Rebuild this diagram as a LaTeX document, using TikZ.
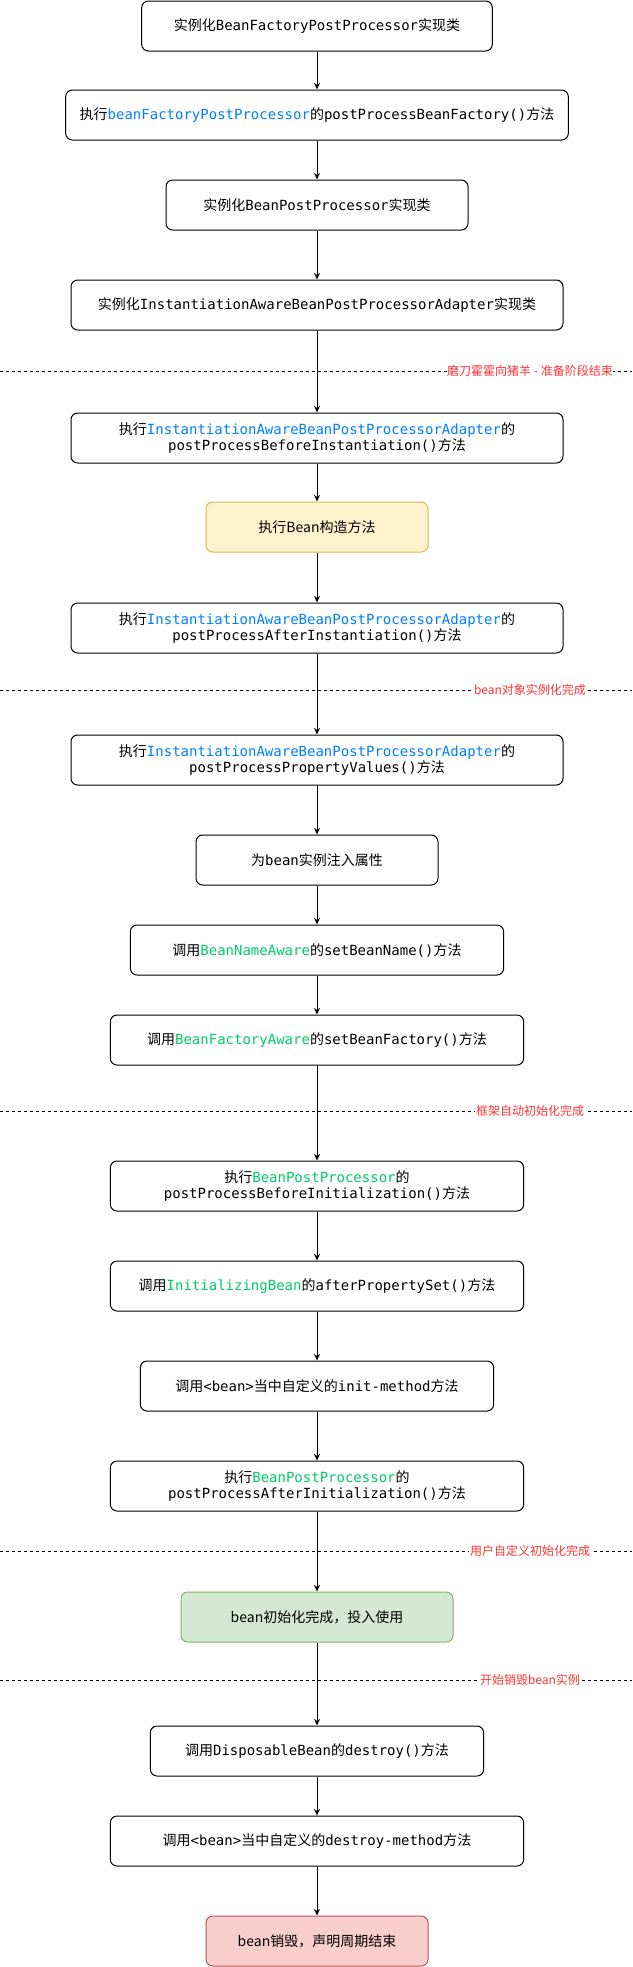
\documentclass[tikz,border=0pt]{standalone}
\usepackage{fontspec}
\setmonofont{DejaVu Sans Mono}
\newfontfamily\cjk{Noto Sans CJK SC}
\usepackage{xcolor}
\usetikzlibrary{arrows.meta, positioning}
\definecolor{blueA}{HTML}{007FFF}
\definecolor{greenA}{HTML}{00CC66}
\definecolor{redA}{HTML}{FF3333}
\definecolor{yellowA}{HTML}{D6B656}
\definecolor{yellowB}{HTML}{FFF2CC}
\definecolor{greenC}{HTML}{82B366}
\definecolor{greenD}{HTML}{D5E8D4}
\definecolor{redC}{HTML}{B85450}
\definecolor{redD}{HTML}{F8CECC}
\newcommand{\zh}[1]{{\cjk #1}}
\tikzset{
  stepbox/.style={
    draw=black, fill=white, rounded corners=5pt,
    line width=0.75pt, align=center, inner sep=2pt,
    minimum height=37.5pt, minimum width=#1,
    font=\ttfamily\fontsize{10.5pt}{12.6pt}\selectfont
  },
  tint/.style 2 args={fill=#1, draw=#2, font=\cjk\fontsize{10.5pt}{12.6pt}\selectfont},
  arrow/.style={-{Stealth[length=5pt, width=4.5pt]}, line width=0.75pt},
  sepline/.style={line width=0.75pt, dash pattern=on 2.25pt off 2.25pt},
  seplabel/.style={fill=white, text=redA, inner sep=0.5pt, font=\cjk\fontsize{9pt}{10pt}\selectfont}
}
\begin{document}
\begin{tikzpicture}[x=0.75pt, y=-0.75pt]
  \useasboundingbox (0,0) rectangle (632,1967);
  % phase separators
  \coordinate (sepAL) at (0,371);  \coordinate (sepAR) at (632,371);
  \coordinate (sepBL) at (0,690);  \coordinate (sepBR) at (632,690);
  \coordinate (sepCL) at (0,1111); \coordinate (sepCR) at (632,1111);
  \coordinate (sepDL) at (0,1551); \coordinate (sepDR) at (632,1551);
  \coordinate (sepEL) at (0,1680); \coordinate (sepER) at (632,1680);
  \draw[sepline] (sepAL) -- (sepAR);
  \draw[sepline] (sepBL) -- (sepBR);
  \draw[sepline] (sepCL) -- (sepCR);
  \draw[sepline] (sepDL) -- (sepDR);
  \draw[sepline] (sepEL) -- (sepER);
  \node[seplabel] (sepAT) at (530,371) {磨刀霍霍向猪羊 - 准备阶段结束};
  \node[seplabel] (sepBT) at (530,690) {bean对象实例化完成};
  \node[seplabel] (sepCT) at (530,1111) {框架自动初始化完成};
  \node[seplabel] (sepDT) at (530,1551) {用户自定义初始化完成};
  \node[seplabel] (sepET) at (530,1680) {开始销毁bean实例};

  % steps
  \node[stepbox=263pt] (bfppNew) at (317,26)
    {\zh{实例化}BeanFactoryPostProcessor\zh{实现类}};
  \node[stepbox=377pt] (bfppRun) at (317,115)
    {\zh{执行}\textcolor{blueA}{beanFactoryPostProcessor}\zh{的}postProcessBeanFactory()\zh{方法}};
  \node[stepbox=226.5pt] (bppNew) at (317,205)
    {\zh{实例化}BeanPostProcessor\zh{实现类}};
  \node[stepbox=369pt] (iabppNew) at (317,305)
    {\zh{实例化}InstantiationAwareBeanPostProcessorAdapter\zh{实现类}};
  \node[stepbox=369pt] (beforeInst) at (317,438)
    {\zh{执行}\textcolor{blueA}{InstantiationAwareBeanPostProcessorAdapter}\zh{的}\\postProcessBeforeInstantiation()\zh{方法}};
  \node[stepbox=166.5pt, tint={yellowB}{yellowA}] (ctor) at (317,527)
    {执行Bean构造方法};
  \node[stepbox=369pt] (afterInst) at (317,628)
    {\zh{执行}\textcolor{blueA}{InstantiationAwareBeanPostProcessorAdapter}\zh{的}\\postProcessAfterInstantiation()\zh{方法}};
  \node[stepbox=369pt] (propVals) at (317,760)
    {\zh{执行}\textcolor{blueA}{InstantiationAwareBeanPostProcessorAdapter}\zh{的}\\postProcessPropertyValues()\zh{方法}};
  \node[stepbox=181.5pt] (inject) at (317,860)
    {\zh{为}bean\zh{实例注入属性}};
  \node[stepbox=280pt] (nameAware) at (317,950)
    {\zh{调用}\textcolor{greenA}{BeanNameAware}\zh{的}setBeanName()\zh{方法}};
  \node[stepbox=310pt] (factoryAware) at (317,1040)
    {\zh{调用}\textcolor{greenA}{BeanFactoryAware}\zh{的}setBeanFactory()\zh{方法}};
  \node[stepbox=310pt] (beforeInit) at (317,1186)
    {\zh{执行}\textcolor{greenA}{BeanPostProcessor}\zh{的}\\postProcessBeforeInitialization()\zh{方法}};
  \node[stepbox=310pt] (afterProps) at (317,1286)
    {\zh{调用}\textcolor{greenA}{InitializingBean}\zh{的}afterPropertySet()\zh{方法}};
  \node[stepbox=265pt] (initMethod) at (317,1386)
    {\zh{调用}<bean>\zh{当中自定义的}init-method\zh{方法}};
  \node[stepbox=310pt] (afterInit) at (317,1486)
    {\zh{执行}\textcolor{greenA}{BeanPostProcessor}\zh{的}\\postProcessAfterInitialization()\zh{方法}};
  \node[stepbox=204pt, tint={greenD}{greenC}] (ready) at (317,1617)
    {bean初始化完成，投入使用};
  \node[stepbox=250pt] (disposable) at (317,1751)
    {\zh{调用}DisposableBean\zh{的}destroy()\zh{方法}};
  \node[stepbox=310pt] (destroyMethod) at (317,1841)
    {\zh{调用}<bean>\zh{当中自定义的}destroy-method\zh{方法}};
  \node[stepbox=166.5pt, tint={redD}{redC}] (dead) at (317,1941)
    {bean销毁，声明周期结束};

  % flow
  \draw[arrow] (bfppNew) -- (bfppRun);
  \draw[arrow] (bfppRun) -- (bppNew);
  \draw[arrow] (bppNew) -- (iabppNew);
  \draw[arrow] (iabppNew) -- (beforeInst);
  \draw[arrow] (beforeInst) -- (ctor);
  \draw[arrow] (ctor) -- (afterInst);
  \draw[arrow] (afterInst) -- (propVals);
  \draw[arrow] (propVals) -- (inject);
  \draw[arrow] (inject) -- (nameAware);
  \draw[arrow] (nameAware) -- (factoryAware);
  \draw[arrow] (factoryAware) -- (beforeInit);
  \draw[arrow] (beforeInit) -- (afterProps);
  \draw[arrow] (afterProps) -- (initMethod);
  \draw[arrow] (initMethod) -- (afterInit);
  \draw[arrow] (afterInit) -- (ready);
  \draw[arrow] (ready) -- (disposable);
  \draw[arrow] (disposable) -- (destroyMethod);
  \draw[arrow] (destroyMethod) -- (dead);
\end{tikzpicture}
\end{document}
